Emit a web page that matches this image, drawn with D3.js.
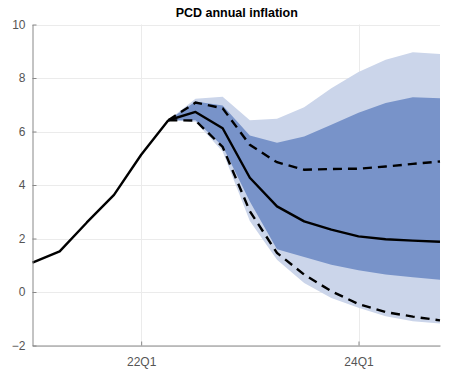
<!DOCTYPE html>
<html>
<head>
<meta charset="utf-8">
<script src="https://cdn.jsdelivr.net/npm/d3@7"></script>
<style>
  body { margin: 0; background: #fff; }
  text { font-family: "Liberation Sans", Arial, sans-serif; }
</style>
</head>
<body>
<div id="chart"></div>
<script>
var quarters = ['21Q1', '21Q2', '21Q3', '21Q4', '22Q1', '22Q2', '22Q3', '22Q4',
                '23Q1', '23Q2', '23Q3', '23Q4', '24Q1', '24Q2', '24Q3', '24Q4'];
var xTickLabels = ['22Q1', '24Q1'];
var yTicks = [-2, 0, 2, 4, 6, 8, 10];

// outturn 21Q1..22Q2
var actual = [1.1, 1.52, 2.6, 3.63, 5.13, 6.42];
// forecast 22Q2..24Q4
var median     = [6.42, 6.73, 6.12, 4.27, 3.2, 2.64, 2.33, 2.08, 1.97, 1.92, 1.88];
var upperDash  = [6.42, 7.08, 6.87, 5.5, 4.85, 4.57, 4.6, 4.61, 4.69, 4.79, 4.88];
var lowerDash  = [6.42, 6.41, 5.42, 3.02, 1.46, 0.65, 0.03, -0.45, -0.75, -0.92, -1.06];
var innerHigh  = [6.42, 7.12, 6.97, 5.85, 5.58, 5.81, 6.25, 6.7, 7.07, 7.28, 7.24];
var innerLow   = [6.42, 6.42, 5.45, 3.38, 1.6, 1.31, 1.02, 0.81, 0.65, 0.55, 0.46];
var outerHigh  = [6.42, 7.22, 7.3, 6.42, 6.48, 6.91, 7.62, 8.22, 8.68, 8.96, 8.9];
var outerLow   = [6.42, 6.36, 5.25, 2.65, 1.21, 0.34, -0.22, -0.59, -0.91, -1.09, -1.18];

var width = 451, height = 374;
var mLeft = 32.5, mRight = 440, mTop = 24.5, mBottom = 345.5;
var fcStart = quarters.indexOf('22Q2');

var x = d3.scaleLinear().domain([0, quarters.length - 1]).range([mLeft, mRight]);
var y = d3.scaleLinear().domain([-2, 10]).range([mBottom, mTop]);

var svg = d3.select('#chart').append('svg')
    .attr('width', width)
    .attr('height', height);

// grid
var grid = svg.append('g').attr('stroke', '#ebebeb').attr('stroke-width', 1);
grid.selectAll('line.h').data(yTicks).enter().append('line')
    .attr('x1', mLeft).attr('x2', mRight)
    .attr('y1', function (d) { return Math.round(y(d)) + 0.5; })
    .attr('y2', function (d) { return Math.round(y(d)) + 0.5; });
grid.selectAll('line.v').data(xTickLabels).enter().append('line')
    .attr('y1', mTop).attr('y2', mBottom)
    .attr('x1', function (d) { return Math.round(x(quarters.indexOf(d))) + 0.5; })
    .attr('x2', function (d) { return Math.round(x(quarters.indexOf(d))) + 0.5; });

// fan bands
function band(hi, lo) {
    return d3.area()
        .x(function (d, i) { return x(fcStart + i); })
        .y0(function (d, i) { return y(lo[i]); })
        .y1(function (d, i) { return y(hi[i]); })(hi);
}
svg.append('path').attr('d', band(outerHigh, outerLow)).attr('fill', '#cbd5ea');
svg.append('path').attr('d', band(innerHigh, innerLow)).attr('fill', '#7893c9');

// lines
var fcLine = d3.line()
    .x(function (d, i) { return x(fcStart + i); })
    .y(function (d) { return y(d); });
var actLine = d3.line()
    .x(function (d, i) { return x(i); })
    .y(function (d) { return y(d); });

[upperDash, lowerDash].forEach(function (s) {
    svg.append('path').attr('d', fcLine(s))
        .attr('fill', 'none').attr('stroke', '#000')
        .attr('stroke-width', 2.4).attr('stroke-dasharray', '9,6');
});
svg.append('path').attr('d', fcLine(median))
    .attr('fill', 'none').attr('stroke', '#000').attr('stroke-width', 2.4)
    .attr('stroke-linejoin', 'round');
svg.append('path').attr('d', actLine(actual))
    .attr('fill', 'none').attr('stroke', '#000').attr('stroke-width', 2.4)
    .attr('stroke-linejoin', 'round');

// axes
var yAxis = d3.axisLeft(y).tickValues(yTicks)
    .tickSizeInner(-4).tickSizeOuter(0).tickPadding(7);
var xAxis = d3.axisBottom(x)
    .tickValues(xTickLabels.map(function (d) { return quarters.indexOf(d); }))
    .tickFormat(function (i) { return quarters[i]; })
    .tickSizeInner(-4).tickSizeOuter(0).tickPadding(12);

var gy = svg.append('g').attr('transform', 'translate(' + mLeft + ',0)').call(yAxis);
var gx = svg.append('g').attr('transform', 'translate(0,' + mBottom + ')').call(xAxis);
[gx, gy].forEach(function (g) {
    g.select('.domain').attr('stroke', '#888');
    g.selectAll('.tick line').attr('stroke', '#888');
    g.selectAll('.tick text').attr('fill', '#555').attr('font-size', 12)
        .style('font-family', '"Liberation Sans", Arial, sans-serif');
});

svg.append('text')
    .attr('x', (mLeft + mRight) / 2 + 0.5)
    .attr('y', 17)
    .attr('text-anchor', 'middle')
    .attr('font-size', 12.5)
    .attr('font-weight', 'bold')
    .attr('fill', '#000')
    .text('PCD annual inflation');
</script>
</body>
</html>
